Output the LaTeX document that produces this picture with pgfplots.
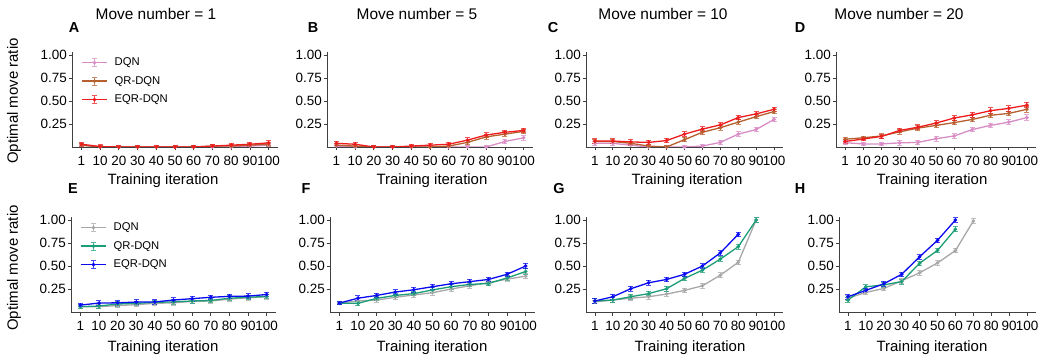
\documentclass[border=0pt]{standalone}
\usepackage{fontspec}
\setmainfont{Liberation Sans}
\usepackage{pgfplots}
\pgfplotsset{compat=1.18}
\definecolor{pinkc}{HTML}{D98DC6}
\definecolor{brownc}{HTML}{B5602E}
\definecolor{redc}{HTML}{EE1C1C}
\definecolor{grayc}{HTML}{A8A8A8}
\definecolor{greenc}{HTML}{1B9E77}
\definecolor{bluec}{HTML}{0A0AF0}
\pgfplotsset{
  panel/.style={
    scale only axis, height=95bp,
    xmin=-0.5, xmax=10.5, ymin=0, ymax=1.033,
    axis x line*=bottom, axis y line*=left,
    axis line style={draw=black!75, line width=0.8bp, -},
    xtick={0,...,10},
    xticklabels={1,10,20,30,40,50,60,70,80,90,100},
    ytick={0.25,0.5,0.75,1},
    yticklabel style={/pgf/number format/fixed, /pgf/number format/fixed zerofill, /pgf/number format/precision=2, inner sep=1.5bp},
    /pgf/number format/assume math mode=true,
    tick align=outside, major tick length=3.5bp,
    tick style={black!75, line width=0.8bp},
    ticklabel style={font=\fontsize{13.5}{14}\selectfont},
    xticklabel style={inner sep=0bp, anchor=base, yshift=-15bp},
    error bars/y dir=both, error bars/y explicit,
    error bars/error bar style={line width=0.9bp, opacity=0.75},
    error bars/error mark options={rotate=90, mark size=2.5bp, line width=0.9bp, opacity=0.75},
    legend cell align=left,
    legend style={draw=none, fill=none, at={(0.03,0.975)}, anchor=north west,
      font=\fontsize{11.3}{12}\selectfont, row sep=6.5bp, column sep=6bp,
      nodes={inner sep=1bp, text height=8bp, text depth=2bp}},
    legend image code/.code={
      \draw[mark repeat=2, mark phase=2, #1] plot coordinates {(0bp,0bp)(12.5bp,0bp)(25bp,0bp)};
      \draw[#1, mark=none, line width=0.9bp, opacity=0.75] (12.5bp,-4bp)--(12.5bp,4bp) (10bp,-4bp)--(15bp,-4bp) (10bp,4bp)--(15bp,4bp);
    },
  },
  ser/.style={#1, line width=1.3bp, mark=*, mark size=1.1bp},
}
\newcommand{\ttl}[1]{\fontsize{15.5}{16}\selectfont #1}
\newcommand{\lbl}[1]{\fontsize{15}{16}\selectfont #1}
\newcommand{\plet}[1]{\fontsize{14.5}{15}\selectfont\bfseries #1}
\begin{document}
\begin{tikzpicture}[x=1bp,y=1bp]
\useasboundingbox (0,0) rectangle (1045,354);
% ---------- A ----------
\begin{axis}[panel, width=206bp, at={(72bp,207bp)}, anchor=south west]
\addplot[ser=pinkc] coordinates {(0,0.02)+-(0,0.02) (1,0)+-(0,0.02) (2,0)+-(0,0.02) (3,0)+-(0,0.02) (4,0)+-(0,0.02) (5,0)+-(0,0.02) (6,0)+-(0,0.02) (7,0)+-(0,0.02) (8,0)+-(0,0.02) (9,0.01)+-(0,0.02) (10,0.02)+-(0,0.02)};
\addlegendentry{DQN}
\addplot[ser=brownc] coordinates {(0,0.02)+-(0,0.02) (1,0)+-(0,0.02) (2,0)+-(0,0.02) (3,0)+-(0,0.02) (4,0)+-(0,0.02) (5,0)+-(0,0.02) (6,0)+-(0,0.02) (7,0.01)+-(0,0.02) (8,0.01)+-(0,0.02) (9,0.02)+-(0,0.02) (10,0.03)+-(0,0.02)};
\addlegendentry{QR-DQN}
\addplot[ser=redc] coordinates {(0,0.03)+-(0,0.02) (1,0.005)+-(0,0.02) (2,0)+-(0,0.02) (3,0)+-(0,0.02) (4,0)+-(0,0.02) (5,0)+-(0,0.02) (6,0)+-(0,0.02) (7,0.01)+-(0,0.02) (8,0.02)+-(0,0.02) (9,0.03)+-(0,0.02) (10,0.045)+-(0,0.025)};
\addlegendentry{EQR-DQN}
\end{axis}
% ---------- B ----------
\begin{axis}[panel, width=206bp, at={(327bp,207bp)}, anchor=south west]
\addplot[ser=pinkc] coordinates {(0,0.01)+-(0,0.02) (1,0)+-(0,0.02) (2,0)+-(0,0.02) (3,0)+-(0,0.02) (4,0)+-(0,0.02) (5,0)+-(0,0.02) (6,0)+-(0,0.02) (7,0)+-(0,0.02) (8,0)+-(0,0.02) (9,0.06)+-(0,0.025) (10,0.10)+-(0,0.025)};
\addplot[ser=brownc] coordinates {(0,0.02)+-(0,0.02) (1,0.01)+-(0,0.02) (2,0)+-(0,0.02) (3,0)+-(0,0.02) (4,0)+-(0,0.02) (5,0)+-(0,0.02) (6,0.01)+-(0,0.02) (7,0.05)+-(0,0.025) (8,0.11)+-(0,0.025) (9,0.14)+-(0,0.025) (10,0.17)+-(0,0.025)};
\addplot[ser=redc] coordinates {(0,0.04)+-(0,0.02) (1,0.03)+-(0,0.02) (2,0)+-(0,0.02) (3,0)+-(0,0.02) (4,0.01)+-(0,0.02) (5,0.02)+-(0,0.02) (6,0.03)+-(0,0.02) (7,0.075)+-(0,0.025) (8,0.13)+-(0,0.025) (9,0.16)+-(0,0.025) (10,0.18)+-(0,0.025)};
\end{axis}
% ---------- C ----------
\begin{axis}[panel, width=197bp, at={(586bp,207bp)}, anchor=south west]
\addplot[ser=pinkc] coordinates {(0,0.04)+-(0,0.02) (1,0.04)+-(0,0.02) (2,0.02)+-(0,0.02) (3,0)+-(0,0.02) (4,0)+-(0,0.02) (5,0)+-(0,0.02) (6,0.01)+-(0,0.02) (7,0.05)+-(0,0.025) (8,0.14)+-(0,0.025) (9,0.19)+-(0,0.025) (10,0.30)+-(0,0.025)};
\addplot[ser=brownc] coordinates {(0,0.06)+-(0,0.025) (1,0.06)+-(0,0.025) (2,0.04)+-(0,0.025) (3,0.01)+-(0,0.02) (4,0)+-(0,0.02) (5,0.08)+-(0,0.025) (6,0.16)+-(0,0.025) (7,0.21)+-(0,0.025) (8,0.27)+-(0,0.025) (9,0.33)+-(0,0.025) (10,0.385)+-(0,0.025)};
\addplot[ser=redc] coordinates {(0,0.065)+-(0,0.025) (1,0.065)+-(0,0.025) (2,0.055)+-(0,0.025) (3,0.05)+-(0,0.025) (4,0.07)+-(0,0.025) (5,0.14)+-(0,0.025) (6,0.195)+-(0,0.025) (7,0.24)+-(0,0.025) (8,0.32)+-(0,0.025) (9,0.36)+-(0,0.025) (10,0.41)+-(0,0.025)};
\end{axis}
% ---------- D ----------
\begin{axis}[panel, width=200bp, at={(836bp,207bp)}, anchor=south west]
\addplot[ser=pinkc] coordinates {(0,0.047)+-(0,0.02) (1,0.033)+-(0,0.02) (2,0.033)+-(0,0.02) (3,0.045)+-(0,0.025) (4,0.05)+-(0,0.025) (5,0.09)+-(0,0.025) (6,0.12)+-(0,0.025) (7,0.19)+-(0,0.025) (8,0.235)+-(0,0.025) (9,0.27)+-(0,0.025) (10,0.32)+-(0,0.03)};
\addplot[ser=brownc] coordinates {(0,0.085)+-(0,0.02) (1,0.10)+-(0,0.02) (2,0.12)+-(0,0.025) (3,0.165)+-(0,0.025) (4,0.205)+-(0,0.025) (5,0.235)+-(0,0.025) (6,0.265)+-(0,0.025) (7,0.30)+-(0,0.025) (8,0.345)+-(0,0.025) (9,0.365)+-(0,0.025) (10,0.41)+-(0,0.03)};
\addplot[ser=redc] coordinates {(0,0.06)+-(0,0.02) (1,0.087)+-(0,0.02) (2,0.115)+-(0,0.025) (3,0.18)+-(0,0.025) (4,0.215)+-(0,0.025) (5,0.26)+-(0,0.025) (6,0.315)+-(0,0.025) (7,0.35)+-(0,0.03) (8,0.395)+-(0,0.03) (9,0.42)+-(0,0.03) (10,0.455)+-(0,0.03)};
\end{axis}
% ---------- E ----------
\begin{axis}[panel, width=205bp, at={(71bp,42bp)}, anchor=south west]
\addplot[ser=grayc] coordinates {(0,0.058)+-(0,0.02) (1,0.058)+-(0,0.02) (2,0.07)+-(0,0.025) (3,0.08)+-(0,0.025) (4,0.094)+-(0,0.025) (5,0.10)+-(0,0.025) (6,0.115)+-(0,0.025) (7,0.12)+-(0,0.025) (8,0.14)+-(0,0.025) (9,0.155)+-(0,0.025) (10,0.165)+-(0,0.025)};
\addlegendentry{DQN}
\addplot[ser=greenc] coordinates {(0,0.058)+-(0,0.02) (1,0.065)+-(0,0.025) (2,0.087)+-(0,0.025) (3,0.094)+-(0,0.025) (4,0.105)+-(0,0.025) (5,0.11)+-(0,0.025) (6,0.12)+-(0,0.025) (7,0.125)+-(0,0.025) (8,0.15)+-(0,0.025) (9,0.16)+-(0,0.025) (10,0.17)+-(0,0.025)};
\addlegendentry{QR-DQN}
\addplot[ser=bluec] coordinates {(0,0.075)+-(0,0.02) (1,0.097)+-(0,0.025) (2,0.10)+-(0,0.025) (3,0.108)+-(0,0.025) (4,0.11)+-(0,0.025) (5,0.13)+-(0,0.025) (6,0.145)+-(0,0.025) (7,0.16)+-(0,0.025) (8,0.17)+-(0,0.025) (9,0.173)+-(0,0.025) (10,0.19)+-(0,0.025)};
\addlegendentry{EQR-DQN}
\end{axis}
% ---------- F ----------
\begin{axis}[panel, width=205bp, at={(330bp,42bp)}, anchor=south west]
\addplot[ser=grayc] coordinates {(0,0.097)+-(0,0.02) (1,0.12)+-(0,0.025) (2,0.13)+-(0,0.025) (3,0.16)+-(0,0.025) (4,0.185)+-(0,0.025) (5,0.21)+-(0,0.025) (6,0.25)+-(0,0.025) (7,0.285)+-(0,0.025) (8,0.32)+-(0,0.025) (9,0.357)+-(0,0.025) (10,0.39)+-(0,0.03)};
\addplot[ser=greenc] coordinates {(0,0.097)+-(0,0.02) (1,0.094)+-(0,0.025) (2,0.148)+-(0,0.025) (3,0.18)+-(0,0.025) (4,0.20)+-(0,0.025) (5,0.24)+-(0,0.025) (6,0.275)+-(0,0.025) (7,0.30)+-(0,0.025) (8,0.31)+-(0,0.025) (9,0.37)+-(0,0.025) (10,0.44)+-(0,0.03)};
\addplot[ser=bluec] coordinates {(0,0.097)+-(0,0.02) (1,0.15)+-(0,0.025) (2,0.18)+-(0,0.025) (3,0.217)+-(0,0.025) (4,0.242)+-(0,0.025) (5,0.275)+-(0,0.025) (6,0.307)+-(0,0.025) (7,0.33)+-(0,0.025) (8,0.354)+-(0,0.025) (9,0.41)+-(0,0.025) (10,0.50)+-(0,0.03)};
\end{axis}
% ---------- G ----------
\begin{axis}[panel, width=197bp, at={(586bp,42bp)}, anchor=south west]
\addplot[ser=grayc] coordinates {(0,0.11)+-(0,0.02) (1,0.13)+-(0,0.025) (2,0.15)+-(0,0.025) (3,0.166)+-(0,0.025) (4,0.195)+-(0,0.025) (5,0.235)+-(0,0.025) (6,0.285)+-(0,0.025) (7,0.40)+-(0,0.025) (8,0.54)+-(0,0.025) (9,1.0)+-(0,0.025)};
\addplot[ser=greenc] coordinates {(0,0.12)+-(0,0.025) (1,0.13)+-(0,0.025) (2,0.166)+-(0,0.025) (3,0.20)+-(0,0.025) (4,0.253)+-(0,0.025) (5,0.365)+-(0,0.025) (6,0.455)+-(0,0.025) (7,0.575)+-(0,0.025) (8,0.71)+-(0,0.025) (9,1.0)+-(0,0.025)};
\addplot[ser=bluec] coordinates {(0,0.12)+-(0,0.025) (1,0.166)+-(0,0.025) (2,0.253)+-(0,0.025) (3,0.318)+-(0,0.025) (4,0.354)+-(0,0.025) (5,0.41)+-(0,0.025) (6,0.50)+-(0,0.025) (7,0.643)+-(0,0.025) (8,0.845)+-(0,0.025)};
\end{axis}
% ---------- H ----------
\begin{axis}[panel, width=197bp, at={(839bp,42bp)}, anchor=south west]
\addplot[ser=grayc] coordinates {(0,0.15)+-(0,0.025) (1,0.213)+-(0,0.025) (2,0.256)+-(0,0.025) (3,0.34)+-(0,0.025) (4,0.426)+-(0,0.025) (5,0.534)+-(0,0.025) (6,0.668)+-(0,0.025) (7,0.99)+-(0,0.025)};
\addplot[ser=greenc] coordinates {(0,0.13)+-(0,0.025) (1,0.274)+-(0,0.025) (2,0.295)+-(0,0.025) (3,0.33)+-(0,0.025) (4,0.53)+-(0,0.025) (5,0.67)+-(0,0.025) (6,0.90)+-(0,0.025)};
\addplot[ser=bluec] coordinates {(0,0.166)+-(0,0.025) (1,0.235)+-(0,0.025) (2,0.307)+-(0,0.025) (3,0.41)+-(0,0.025) (4,0.60)+-(0,0.025) (5,0.78)+-(0,0.025) (6,1.0)+-(0,0.025)};
\end{axis}
% ---------- texts ----------
\node[anchor=base] at (156,334.5) {\ttl{Move number = 1}};
\node[anchor=base] at (417,334.5) {\ttl{Move number = 5}};
\node[anchor=base] at (663,334.5) {\ttl{Move number = 10}};
\node[anchor=base] at (899,334.5) {\ttl{Move number = 20}};
\node[anchor=base] at (74,322) {\plet{A}};
\node[anchor=base] at (313,322) {\plet{B}};
\node[anchor=base] at (553,322) {\plet{C}};
\node[anchor=base] at (800,322) {\plet{D}};
\node[anchor=base] at (73,161) {\plet{E}};
\node[anchor=base] at (306,161) {\plet{F}};
\node[anchor=base] at (559,161) {\plet{G}};
\node[anchor=base] at (800,161) {\plet{H}};
\node[rotate=90] at (14,253) {\lbl{Optimal move ratio}};
\node[rotate=90] at (14,86) {\lbl{Optimal move ratio}};
\node[anchor=base] at (163,170) {\lbl{Training iteration}};
\node[anchor=base] at (432,170) {\lbl{Training iteration}};
\node[anchor=base] at (687,170) {\lbl{Training iteration}};
\node[anchor=base] at (932,170) {\lbl{Training iteration}};
\node[anchor=base] at (163,3) {\lbl{Training iteration}};
\node[anchor=base] at (432,3) {\lbl{Training iteration}};
\node[anchor=base] at (690,3) {\lbl{Training iteration}};
\node[anchor=base] at (932,3) {\lbl{Training iteration}};
\end{tikzpicture}
\end{document}
